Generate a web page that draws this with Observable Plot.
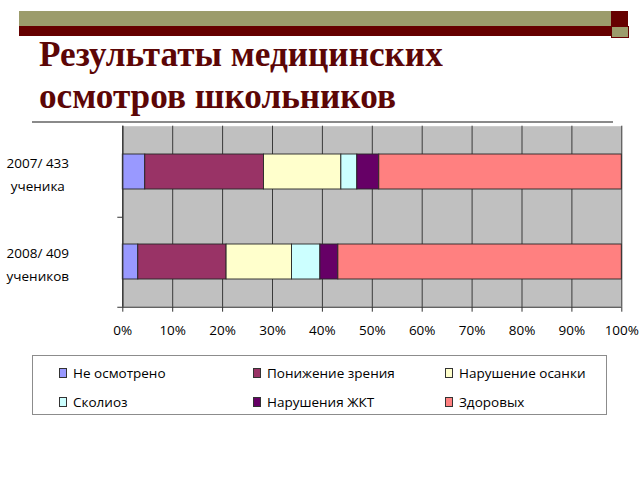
<!DOCTYPE html>
<html>
<head>
<meta charset="utf-8">
<script src="https://cdn.jsdelivr.net/npm/d3@7"></script>
<script src="https://cdn.jsdelivr.net/npm/@observablehq/plot@0.6"></script>
<style>
  html, body { margin: 0; padding: 0; background: #fff; }
  #page { position: relative; width: 640px; height: 480px; overflow: hidden; background: #fff; }
  .deco { position: absolute; }
  #title { position: absolute; left: 39px; top: 33px; font-family: "Liberation Serif", "Times New Roman", serif;
           font-weight: bold; font-size: 36px; line-height: 42px; color: #5c0606; white-space: nowrap;
           transform: scaleX(0.978); transform-origin: left top; }
  #chart { position: absolute; left: 0; top: 115px; }
  #legend { position: absolute; left: 32px; top: 355px; width: 575px; height: 60px; border: 1px solid #8c8c8c;
            box-sizing: border-box; font-family: "Open Sans", sans-serif; font-size: 13.5px; color: #000; }
  .item { position: absolute; display: flex; align-items: center; white-space: nowrap; }
  .sw { width: 6px; height: 8px; border: 1px solid #333; margin-right: 6px; }
</style>
</head>
<body>
<div id="page">
  <div class="deco" style="left:19px;top:11px;width:592px;height:15px;background:#9c9c6c"></div>
  <div class="deco" style="left:19px;top:26px;width:592px;height:10px;background:#660000"></div>
  <div class="deco" style="left:611px;top:11px;width:17px;height:16px;background:#660000"></div>
  <div class="deco" style="left:612px;top:27px;width:16px;height:10px;background:#9c9c6c;outline:1px solid #660000"></div>
  <div id="title"></div>
  <div class="deco" style="left:32px;top:121px;width:581px;height:1.5px;background:#8a8a8a"></div>
  <div id="chart"></div>
  <div id="legend"></div>
</div>
<script>
const titleLines = ["Результаты медицинских", "осмотров школьников"];
const categories = ["2007/ 433\nученика", "2008/ 409\nучеников"];
const series = ["Не осмотрено", "Понижение зрения", "Нарушение осанки", "Сколиоз", "Нарушения ЖКТ", "Здоровых"];
const colors = ["#9999FF", "#993366", "#FFFFCC", "#CCFFFF", "#660066", "#FF8080"];
const values2007 = [4.5, 23.8, 15.5, 3.2, 4.4, 48.6];
const values2008 = [3.1, 17.7, 13.1, 5.7, 3.6, 56.8];
const xTicks = [0, 10, 20, 30, 40, 50, 60, 70, 80, 90, 100];

document.getElementById("title").innerHTML = titleLines.join("<br>");

const rows = [];
[values2007, values2008].forEach((vals, i) => {
  vals.forEach((v, j) => rows.push({cat: categories[i], series: series[j], value: v}));
});

const chart = Plot.plot({
  width: 640,
  height: 235,
  marginTop: 10.7,
  marginBottom: 43.3,
  marginLeft: 122.3,
  marginRight: 18.7,
  style: {background: "transparent", fontFamily: "'Open Sans', sans-serif"},
  x: {domain: [0, 100], axis: null},
  y: {type: "band", domain: categories, paddingInner: 0.613, paddingOuter: 0.3065, axis: null},
  color: {domain: series, range: colors},
  marks: [
    Plot.frame({fill: "#c0c0c0", stroke: "none"}),
    Plot.gridX({ticks: xTicks, stroke: "#3a3a3a", strokeOpacity: 1, strokeWidth: 1}),
    Plot.barX(rows, {x: "value", y: "cat", fill: "series", order: series, stroke: "#262626", strokeWidth: 0.9}),
    Plot.ruleX([0], {stroke: "#333", strokeWidth: 1.2}),
    Plot.ruleY(categories.slice(-1), {y: d => d, dy: 45.25, x1: 0, x2: 100, stroke: "#333", strokeWidth: 1.2}),
    Plot.ruleY(categories, {y: d => d, dy: 45.25, x1: 0, x2: 0, insetLeft: -5, stroke: "#333"}),
    Plot.text(categories, {y: d => d, text: d => d, frameAnchor: "left", dx: -85, textAnchor: "middle",
      lineHeight: 1.75, fontSize: 13.5, fill: "#000"}),
    Plot.axisX({ticks: xTicks, tickFormat: d => d + "%", tickSize: 5, tickPadding: 13, fontSize: 13.5,
      label: null, stroke: "#333", fill: "#000"})
  ]
});
document.getElementById("chart").appendChild(chart);

const legend = document.getElementById("legend");
const colX = [26, 220, 412];
const rowY = [17, 46];
series.forEach((s, i) => {
  const it = document.createElement("div");
  it.className = "item";
  it.style.left = colX[i % 3] + "px";
  it.style.top = (rowY[Math.floor(i / 3)] - 10) + "px";
  it.style.height = "20px";
  const sw = document.createElement("span");
  sw.className = "sw";
  sw.style.background = colors[i];
  const tx = document.createElement("span");
  tx.textContent = s;
  it.appendChild(sw);
  it.appendChild(tx);
  legend.appendChild(it);
});
</script>
</body>
</html>
